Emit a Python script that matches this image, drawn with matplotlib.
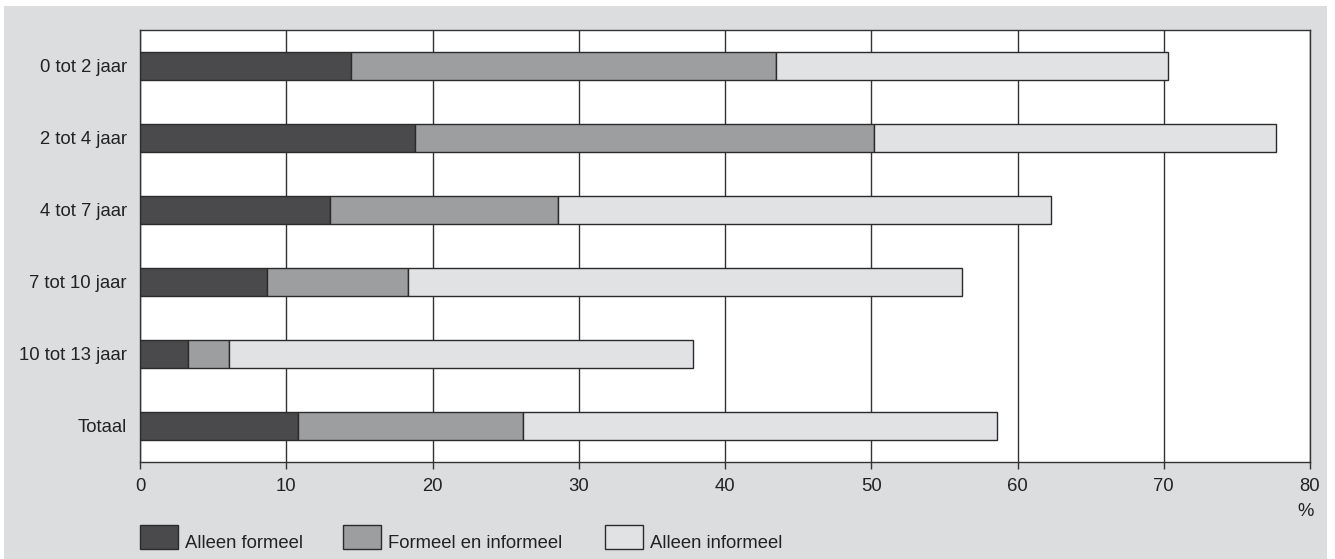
import numpy as np
import matplotlib.pyplot as plt
from matplotlib.patches import Rectangle

plt.rcParams['font.family'] = ['Liberation Sans', 'DejaVu Sans']

categories = ['0 tot 2 jaar', '2 tot 4 jaar', '4 tot 7 jaar', '7 tot 10 jaar',
              '10 tot 13 jaar', 'Totaal']
# cumulative end points (%)
alleen_formeel = [14.4, 18.8, 13.0, 8.7, 3.3, 10.8]
formeel_en_informeel_end = [43.5, 50.2, 28.6, 18.3, 6.1, 26.2]
alleen_informeel_end = [70.3, 77.7, 62.3, 56.2, 37.8, 58.6]
series_names = ['Alleen formeel', 'Formeel en informeel', 'Alleen informeel']
xticks = [0, 10, 20, 30, 40, 50, 60, 70, 80]

colors = ['#4a4a4c', '#9d9ea0', '#e1e2e4']
edge = '#2b2b2b'
bg = '#dcdddf'
txt = '#222222'
fs = 13.3

W, H = 1335, 559
fig = plt.figure(figsize=(W / 100, H / 100), dpi=100)
fig.patch.set_facecolor('white')
# grey panel behind the chart
fig.patches.append(Rectangle((4 / W, 0), (1327 - 4) / W, 1 - 6 / H,
                             transform=fig.transFigure, facecolor=bg,
                             edgecolor='none', zorder=-10))

ax = fig.add_axes([140 / W, 1 - 462 / H, (1310 - 140) / W, (462 - 30) / H])
ax.set_facecolor('white')

y = np.arange(len(categories))
af = np.array(alleen_formeel)
fi = np.array(formeel_en_informeel_end)
ai = np.array(alleen_informeel_end)
h = 0.4
ax.barh(y, af, height=h, color=colors[0], edgecolor=edge, linewidth=1, zorder=3)
ax.barh(y, fi - af, left=af, height=h, color=colors[1], edgecolor=edge, linewidth=1, zorder=3)
ax.barh(y, ai - fi, left=fi, height=h, color=colors[2], edgecolor=edge, linewidth=1, zorder=3)

ax.set_xlim(0, 80)
ax.set_ylim(len(categories) - 0.5, -0.5)
ax.set_xticks(xticks)
ax.set_xticklabels([str(t) for t in xticks])
ax.set_yticks(y)
ax.set_yticklabels(categories)
ax.tick_params(axis='y', length=0, pad=9.4, labelsize=fs, colors=txt)
ax.tick_params(axis='x', direction='out', length=5, width=1, color='#333333',
               pad=6.5, labelsize=fs, labelcolor=txt)
ax.xaxis.grid(True, color='#333333', linewidth=1)
ax.set_axisbelow(True)
for s in ax.spines.values():
    s.set_color('#333333')
    s.set_linewidth(1)

fig.text(1306 / W, 1 - 512 / H, '%', ha='center', va='center', fontsize=fs,
         color=txt)

# legend row along the bottom
leg_x = [140, 343, 605]
for xp, c, name in zip(leg_x, colors, series_names):
    fig.patches.append(Rectangle((xp / W, 1 - 549 / H), 38 / W, 24 / H,
                                 transform=fig.transFigure, facecolor=c,
                                 edgecolor=edge, linewidth=1))
    fig.text((xp + 45) / W, 1 - 548 / H, name, ha='left', va='baseline',
             fontsize=fs, color=txt)

fig.savefig('out.png', dpi=100, facecolor='white')
